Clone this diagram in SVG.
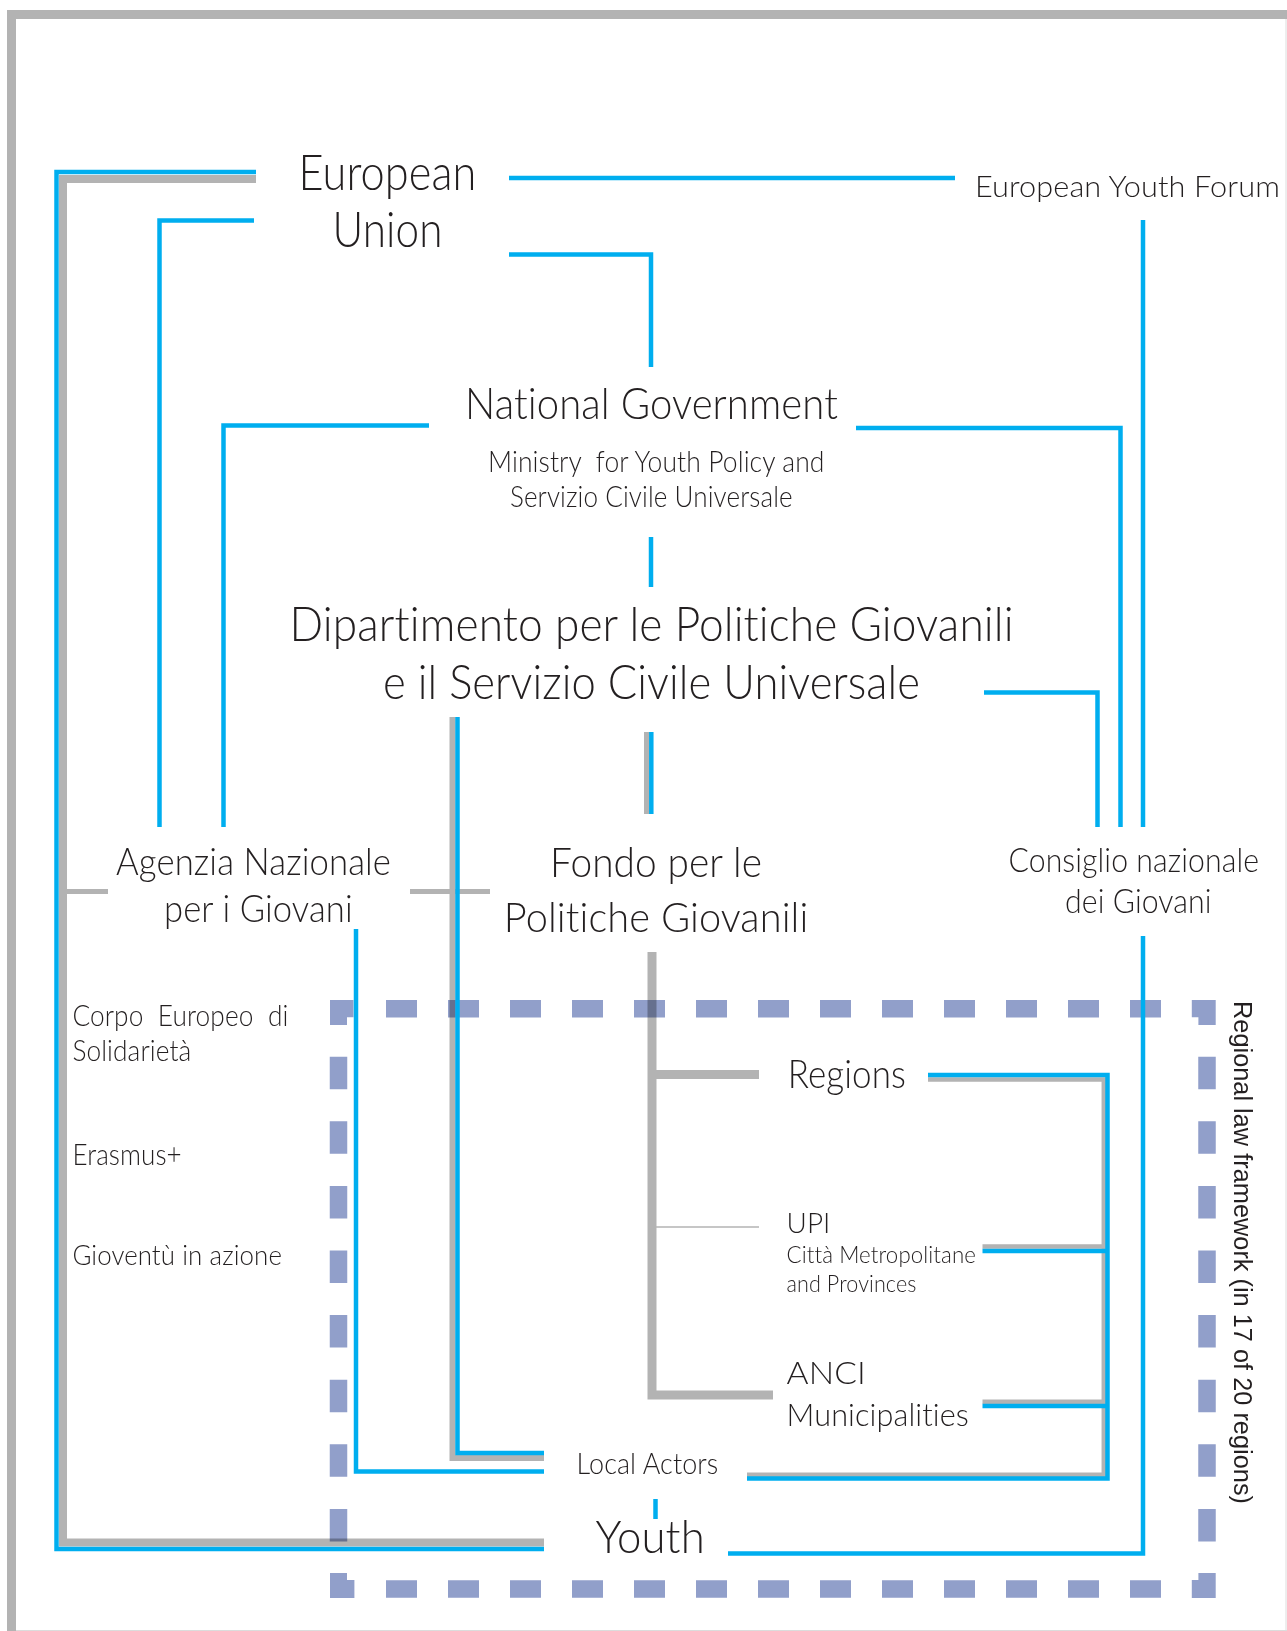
<svg xmlns="http://www.w3.org/2000/svg" width="1287" height="1631" viewBox="0 0 1287 1631">
<style>
.t{font-family:Lato,"Liberation Sans",sans-serif;font-weight:300;fill:#231f20;white-space:pre;letter-spacing:0.1px;font-variant-ligatures:none;font-feature-settings:"liga" 0,"clig" 0,"dlig" 0,"calt" 0}
.b{fill:none;stroke:#00aeef;stroke-width:4.5}
.g{fill:none;stroke:#b3b3b3}
.d{fill:none;stroke:#919fca;stroke-width:17.5}
.dc{fill:#919fca}
</style>
<rect width="1287" height="1631" fill="#fff"/>
<g id="frame">
<rect x="11.5" y="14.5" width="1300" height="1640" fill="none" stroke="#b3b3b3" stroke-width="9"/>
<line x1="1286" y1="19" x2="1286" y2="1631" stroke="#dcdcdc" stroke-width="1"/>
<line x1="16" y1="1630.5" x2="1287" y2="1630.5" stroke="#dcdcdc" stroke-width="1"/>
</g>
<g id="connectors">
<g id="gray-lines">
<path class="g" stroke-width="8" d="M256 179H63V1542.5H544"/>
<path class="g" stroke-width="6" d="M452.5 717V1458H544"/>
<path class="g" stroke-width="5" d="M646.5 732V814"/>
<path class="g" stroke-width="9" d="M652 952V1395H773M656 1074.5H759"/>
<path class="g" stroke-width="1.5" d="M649 1227H759"/>
<path class="g" stroke-width="5" d="M62 891.5H108M410 891.5H490"/>
<path class="g" stroke-width="4.5" d="M928 1079.5H1103.8V1474.7H747M982.5 1246.5H1103.8M982.5 1401.7H1103.8"/>
</g>
<g id="regional-frame" style="mix-blend-mode:multiply">
<path class="d" stroke-dasharray="31 31" d="M386 1008.7H1161M386 1589H1161"/>
<path class="d" stroke-dasharray="32.5 32.1" d="M338.5 1056.7V1541.4M1207 1056.7V1541.4"/>
<path class="dc" d="M330 1000h23.5v17.3h-6.5V1025H330Z M1191.8 1000h23.9V1025h-17.3v-7.7h-6.6Z M330 1573h17v7h7.4v18H330Z M1198.4 1573h17.3v25h-23.9v-18h6.6Z"/>
</g>
<g id="blue-lines">
<path class="b" d="M256 172H56.5V1549H544"/>
<path class="b" d="M254 220.5H159.5V827"/>
<path class="b" d="M509 178H955"/>
<path class="b" d="M509 254.5H651V367"/>
<path class="b" d="M1143 220V827"/>
<path class="b" d="M429 425.5H223.5V827"/>
<path class="b" d="M856 428H1120.5V827"/>
<path class="b" d="M651 537V587"/>
<path class="b" d="M984 692.5H1097.5V827"/>
<path class="b" d="M457.5 717V1453H544"/>
<path class="b" d="M651.3 732V814"/>
<path class="b" d="M356 929V1471.5H544"/>
<path class="b" d="M1143 936V1553.5H728"/>
<path class="b" d="M928 1075H1107.5V1478.5H747M982.5 1251H1107.5M982.5 1406H1107.5"/>
<path class="b" d="M655.5 1499V1519"/>
</g>
</g>
<g id="node-eu">
<text class="t" x="298.5" y="189.5" font-size="49" textLength="178" lengthAdjust="spacingAndGlyphs">European</text>
<text class="t" x="332.5" y="246.5" font-size="49" textLength="110" lengthAdjust="spacingAndGlyphs">Union</text>
</g>
<g id="node-eyf">
<text class="t" x="975" y="196.7" font-size="30" textLength="305" lengthAdjust="spacingAndGlyphs">European Youth Forum</text>
</g>
<g id="node-ng">
<text class="t" x="465" y="419" font-size="44" textLength="373" lengthAdjust="spacingAndGlyphs">National Government</text>
<text class="t" x="488" y="471.7" font-size="28.5" textLength="336.5" lengthAdjust="spacingAndGlyphs">Ministry  for Youth Policy and</text>
<text class="t" x="510" y="506.7" font-size="28.5" textLength="282.7" lengthAdjust="spacingAndGlyphs">Servizio Civile Universale</text>
</g>
<g id="node-dip">
<text class="t" x="289.6" y="640.7" font-size="47.5" textLength="724" lengthAdjust="spacingAndGlyphs">Dipartimento per le Politiche Giovanili</text>
<text class="t" x="383" y="699.3" font-size="47.5" textLength="537" lengthAdjust="spacingAndGlyphs">e il Servizio Civile Universale</text>
</g>
<g id="node-agenzia">
<text class="t" x="116" y="875" font-size="37" textLength="275" lengthAdjust="spacingAndGlyphs">Agenzia Nazionale</text>
<text class="t" x="164" y="922" font-size="37" textLength="188.7" lengthAdjust="spacingAndGlyphs">per i Giovani</text>
</g>
<g id="node-fondo">
<text class="t" x="550" y="877" font-size="41" textLength="212" lengthAdjust="spacingAndGlyphs">Fondo per le</text>
<text class="t" x="503.8" y="931.7" font-size="41" textLength="304.6" lengthAdjust="spacingAndGlyphs">Politiche Giovanili</text>
</g>
<g id="node-consiglio">
<text class="t" x="1008.5" y="872.3" font-size="33" textLength="250.5" lengthAdjust="spacingAndGlyphs">Consiglio nazionale</text>
<text class="t" x="1065" y="912.7" font-size="33" textLength="146.6" lengthAdjust="spacingAndGlyphs">dei Giovani</text>
</g>
<g id="programmes">
<text class="t" x="72.4" y="1026" font-size="29" textLength="216" lengthAdjust="spacingAndGlyphs">Corpo  Europeo  di</text>
<text class="t" x="72.4" y="1060.7" font-size="29" textLength="119" lengthAdjust="spacingAndGlyphs">Solidarietà</text>
<text class="t" x="72.4" y="1165" font-size="28.5" textLength="109.4" lengthAdjust="spacingAndGlyphs">Erasmus+</text>
<text class="t" x="72.4" y="1265" font-size="28" textLength="209.6" lengthAdjust="spacingAndGlyphs">Gioventù in azione</text>
</g>
<g id="node-regions">
<text class="t" x="787.7" y="1087.7" font-size="38.5" textLength="118.3" lengthAdjust="spacingAndGlyphs">Regions</text>
</g>
<g id="node-upi">
<text class="t" x="786.5" y="1233.3" font-size="28" textLength="44" lengthAdjust="spacingAndGlyphs">UPI</text>
<text class="t" x="786.5" y="1262.7" font-size="22.5" textLength="189.5" lengthAdjust="spacingAndGlyphs">Città Metropolitane</text>
<text class="t" x="786.5" y="1292" font-size="22.5" textLength="130" lengthAdjust="spacingAndGlyphs">and Provinces</text>
</g>
<g id="node-anci">
<text class="t" x="786.5" y="1384" font-size="31.5" textLength="79.5" lengthAdjust="spacingAndGlyphs">ANCI</text>
<text class="t" x="786.5" y="1426" font-size="32" textLength="182.5" lengthAdjust="spacingAndGlyphs">Municipalities</text>
</g>
<g id="node-local">
<text class="t" x="576.6" y="1474" font-size="29" textLength="141.8" lengthAdjust="spacingAndGlyphs">Local Actors</text>
</g>
<g id="node-youth">
<text class="t" x="595.5" y="1552.7" font-size="46" textLength="109.3" lengthAdjust="spacingAndGlyphs">Youth</text>
</g>
<g id="label-regional">
<text transform="translate(1234 1001) rotate(90)" font-family="'Liberation Sans',Arial,sans-serif" font-size="25" fill="#231f20" textLength="503" lengthAdjust="spacingAndGlyphs">Regional law framework (in 17 of 20 regions)</text>
</g>
</svg>
